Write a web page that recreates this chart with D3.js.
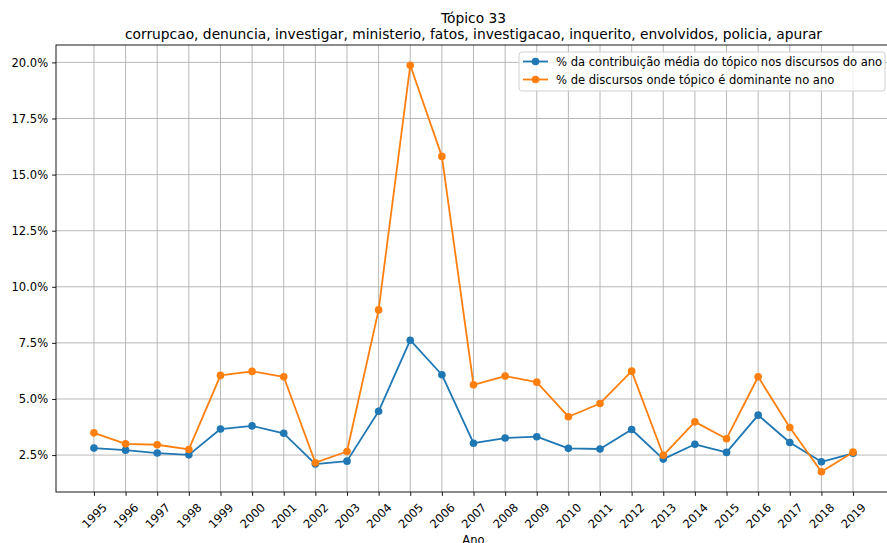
<!DOCTYPE html>
<html>
<head>
<meta charset="utf-8">
<script src="https://cdn.jsdelivr.net/npm/d3@7"></script>
<style>
    body { margin: 0; background: #fff; }
    svg text { font-family: "DejaVu Sans", sans-serif; fill: #000; }
</style>
</head>
<body>
<div id="chart"></div>
<script>
// Data
const years = ["1995", "1996", "1997", "1998", "1999", "2000", "2001", "2002", "2003", "2004", "2005", "2006",
    "2007", "2008", "2009", "2010", "2011", "2012", "2013", "2014", "2015", "2016", "2017", "2018", "2019"];

// % da contribuição média do tópico nos discursos do ano
const mediaContrib = [2.81, 2.72, 2.59, 2.51, 3.66, 3.80, 3.47, 2.10, 2.23, 4.45, 7.62, 6.08,
    3.03, 3.26, 3.32, 2.80, 2.77, 3.64, 2.32, 2.98, 2.62, 4.28, 3.06, 2.20, 2.58];

// % de discursos onde tópico é dominante no ano
const dominante = [3.49, 3.00, 2.96, 2.75, 6.05, 6.23, 5.99, 2.16, 2.66, 8.97, 19.87, 15.81,
    5.63, 6.02, 5.75, 4.21, 4.80, 6.24, 2.49, 3.98, 3.23, 5.99, 3.73, 1.76, 2.63];

const yTicks = [2.5, 5.0, 7.5, 10.0, 12.5, 15.0, 17.5, 20.0];

const seriesNames = [
    "% da contribuição média do tópico nos discursos do ano",
    "% de discursos onde tópico é dominante no ano"
];
const colors = ["#1f77b4", "#ff7f0e"];

const title1 = "Tópico 33";
const title2 = "corrupcao, denuncia, investigar, ministerio, fatos, investigacao, inquerito, envolvidos, policia, apurar";

// Chart
const width = 887, height = 543;
const margin = { top: 45, left: 56, bottom: 492 };
const plotRight = 891;
const fs = "11.55px";

const svg = d3.select("#chart").append("svg")
    .attr("width", width)
    .attr("height", height);

const x = d3.scaleLinear()
    .domain([-1.2, years.length - 1 + 1.2])
    .range([margin.left, plotRight]);

const all = mediaContrib.concat(dominante);
const [lo, hi] = d3.extent(all);
const pad = (hi - lo) * 0.05;
const y = d3.scaleLinear()
    .domain([lo - pad, hi + pad])
    .range([margin.bottom, margin.top]);

// grid
const grid = svg.append("g").attr("stroke", "#b0b0b0").attr("stroke-width", 0.9);
grid.selectAll(".vg").data(years).join("line")
    .attr("x1", (d, i) => x(i)).attr("x2", (d, i) => x(i))
    .attr("y1", margin.top).attr("y2", margin.bottom);
grid.selectAll(".hg").data(yTicks).join("line")
    .attr("x1", margin.left).attr("x2", plotRight)
    .attr("y1", d => y(d)).attr("y2", d => y(d));

// axes
const xAxis = svg.append("g")
    .attr("transform", `translate(0,${margin.bottom})`)
    .call(d3.axisBottom(x).tickValues(d3.range(years.length)).tickFormat(i => years[i])
        .tickSize(3.9).tickPadding(3).tickSizeOuter(0));
xAxis.select(".domain").remove();
xAxis.selectAll(".tick line").attr("stroke", "#000").attr("stroke-width", 0.9);
xAxis.selectAll(".tick text")
    .attr("font-size", fs)
    .attr("text-anchor", "middle")
    .attr("dominant-baseline", "central")
    .attr("y", 0).attr("dy", null)
    .attr("transform", "translate(0,23.8) rotate(-45)");

const yAxis = svg.append("g")
    .attr("transform", `translate(${margin.left},0)`)
    .call(d3.axisLeft(y).tickValues(yTicks).tickFormat(d => d.toFixed(1) + "%")
        .tickSize(3.9).tickPadding(4).tickSizeOuter(0));
yAxis.select(".domain").remove();
yAxis.selectAll(".tick line").attr("stroke", "#000").attr("stroke-width", 0.9);
yAxis.selectAll(".tick text").attr("font-size", fs);

// spines
svg.append("rect")
    .attr("x", margin.left).attr("y", margin.top)
    .attr("width", plotRight - margin.left).attr("height", margin.bottom - margin.top)
    .attr("fill", "none").attr("stroke", "#000").attr("stroke-width", 0.9);

// series
const line = d3.line().x((d, i) => x(i)).y(d => y(d));
[mediaContrib, dominante].forEach((s, k) => {
    const g = svg.append("g");
    g.append("path")
        .datum(s)
        .attr("fill", "none")
        .attr("stroke", colors[k])
        .attr("stroke-width", 1.8)
        .attr("stroke-linejoin", "round")
        .attr("d", line);
    g.selectAll("circle").data(s).join("circle")
        .attr("cx", (d, i) => x(i))
        .attr("cy", d => y(d))
        .attr("r", 3.8)
        .attr("fill", colors[k]);
});

// titles
svg.append("text").attr("x", 473.5).attr("y", 23)
    .attr("text-anchor", "middle").attr("font-size", "13.8px").text(title1);
svg.append("text").attr("x", 473.5).attr("y", 39)
    .attr("text-anchor", "middle").attr("font-size", "13.8px").text(title2);
svg.append("text").attr("x", 473.5).attr("y", 543.5)
    .attr("text-anchor", "middle").attr("font-size", fs).text("Ano");

// legend
const legend = svg.append("g");
legend.append("rect")
    .attr("x", 519).attr("y", 52).attr("width", 366).attr("height", 39)
    .attr("rx", 3)
    .attr("fill", "#fff").attr("fill-opacity", 0.8)
    .attr("stroke", "#cccccc").attr("stroke-width", 0.9);
seriesNames.forEach((name, k) => {
    const cy = 61.5 + k * 18;
    legend.append("line")
        .attr("x1", 523).attr("x2", 548).attr("y1", cy).attr("y2", cy)
        .attr("stroke", colors[k]).attr("stroke-width", 1.8);
    legend.append("circle")
        .attr("cx", 535.5).attr("cy", cy).attr("r", 3.8).attr("fill", colors[k]);
    legend.append("text")
        .attr("x", 556).attr("y", cy)
        .attr("dominant-baseline", "central")
        .attr("font-size", fs)
        .text(name);
});
</script>
</body>
</html>
